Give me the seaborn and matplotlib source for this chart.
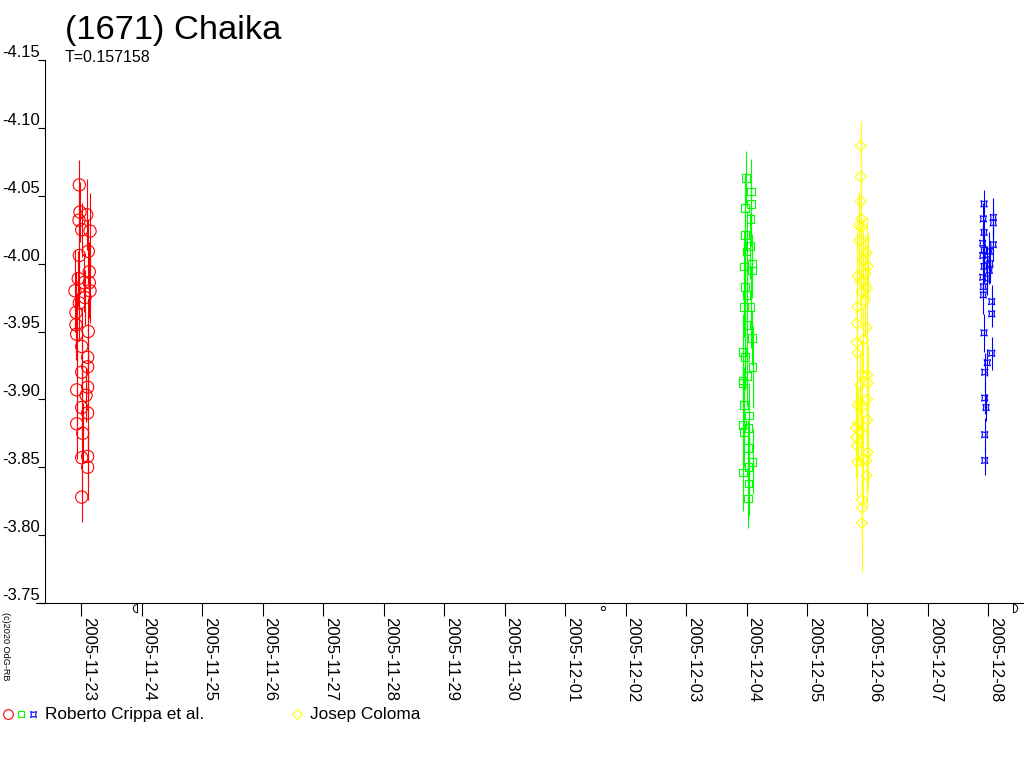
import matplotlib
matplotlib.use("Agg")
import matplotlib.pyplot as plt
import matplotlib.dates as mdates
from matplotlib.lines import Line2D
from matplotlib.path import Path
from matplotlib.ticker import FormatStrFormatter
import numpy as np
import pandas as pd
import seaborn as sns

TITLE = "(1671) Chaika"
PERIOD_NOTE = "T=0.157158"
COPYRIGHT = "(c)2020 OdG-RB"

# Roberto Crippa et al. - first night (days after 2005-11-23 00:00 UT)
red_base = "2005-11-23"
red_dt = [-0.028, -0.017, -0.033, 0.094, 0.012, 0.149, 0.120, -0.028, 0.137, -0.045,
          0.137, -0.100, 0.149, -0.028, -0.083, -0.083, -0.071, 0.120, 0.012, 0.110,
          0.110, 0.012, -0.071, 0.110, 0.083, 0.012, 0.110, -0.071, 0.028, 0.012,
          0.110, 0.110, 0.012, 0.050, 0.066]
red_mag = [-4.058, -4.038, -4.032, -4.036, -4.025, -4.024, -4.009, -4.006, -3.994, -3.989,
           -3.986, -3.980, -3.980, -3.971, -3.964, -3.955, -3.948, -3.950, -3.939, -3.931,
           -3.924, -3.920, -3.907, -3.909, -3.903, -3.894, -3.890, -3.882, -3.875, -3.857,
           -3.858, -3.850, -3.828, -3.986, -3.975]
red_err = [0.018, 0.022, 0.020, 0.026, 0.020, 0.028, 0.024, 0.030, 0.022, 0.020,
           0.026, 0.030, 0.024, 0.028, 0.030, 0.026, 0.030, 0.025, 0.028, 0.030,
           0.022, 0.026, 0.030, 0.024, 0.020, 0.028, 0.024, 0.026, 0.022, 0.030,
           0.020, 0.024, 0.018, 0.022, 0.020]

# Roberto Crippa et al. - second night (days after 2005-12-04)
green_base = "2005-12-04"
green_dt = [-0.008, 0.079, 0.079, -0.020, 0.069, -0.020, 0.058, 0.003, 0.091, -0.041,
            0.091, -0.020, 0.003, 0.069, -0.041, 0.003, 0.091, -0.063, -0.020, 0.102,
            0.013, -0.053, -0.053, -0.041, 0.046, -0.063, 0.036, -0.041, 0.025, 0.102,
            -0.053, 0.036, 0.036, 0.025]
green_mag = [-4.063, -4.053, -4.044, -4.041, -4.033, -4.021, -4.013, -4.009, -4.000, -3.998,
             -3.995, -3.983, -3.977, -3.968, -3.968, -3.955, -3.945, -3.935, -3.931, -3.924,
             -3.917, -3.914, -3.912, -3.896, -3.888, -3.881, -3.879, -3.876, -3.864, -3.854,
             -3.846, -3.850, -3.838, -3.827]
green_err = [0.020, 0.024, 0.022, 0.026, 0.020, 0.028, 0.024, 0.030, 0.022, 0.026,
             0.020, 0.028, 0.024, 0.030, 0.022, 0.026, 0.020, 0.028, 0.024, 0.030,
             0.022, 0.026, 0.020, 0.028, 0.024, 0.030, 0.022, 0.026, 0.020, 0.024,
             0.028, 0.022, 0.024, 0.022]

# Roberto Crippa et al. - third night (days after 2005-12-08)
blue_base = "2005-12-08"
blue_dt = [-0.074, -0.086, 0.079, 0.079, -0.074, -0.096, 0.079, -0.074, 0.013, -0.096,
           -0.030, 0.025, -0.074, 0.013, -0.096, -0.030, -0.086, -0.086, 0.053, 0.053,
           -0.074, 0.053, -0.020, -0.063, -0.063, -0.041, -0.063, -0.063]
blue_mag = [-4.044, -4.033, -4.034, -4.030, -4.023, -4.015, -4.014, -4.010, -4.009, -4.006,
            -4.003, -4.000, -3.998, -3.995, -3.990, -3.989, -3.983, -3.977, -3.972, -3.963,
            -3.949, -3.934, -3.927, -3.920, -3.901, -3.894, -3.874, -3.855]
blue_err = [0.010, 0.012, 0.014, 0.012, 0.010, 0.014, 0.012, 0.010, 0.014, 0.012,
            0.010, 0.014, 0.012, 0.010, 0.014, 0.012, 0.010, 0.014, 0.012, 0.010,
            0.014, 0.012, 0.010, 0.014, 0.012, 0.010, 0.012, 0.011]

# Josep Coloma (days after 2005-12-06)
yellow_base = "2005-12-06"
yellow_dt = [-0.112, -0.112, -0.112, -0.102, -0.145, -0.102, -0.136, -0.013, -0.069, 0.008,
             -0.036, -0.169, -0.112, -0.003, -0.102, -0.046, -0.169, -0.179, -0.013, -0.069,
             -0.179, -0.169, -0.091, -0.003, -0.124, 0.008, -0.003, -0.169, -0.091, -0.003,
             -0.157, -0.190, -0.112, -0.190, -0.179, 0.008, -0.069, -0.169, -0.013, -0.013,
             -0.091, -0.091, -0.091]
yellow_mag = [-4.087, -4.064, -4.046, -4.033, -4.028, -4.027, -4.017, -4.008, -4.003, -3.998,
              -3.993, -3.991, -3.987, -3.982, -3.979, -3.973, -3.968, -3.956, -3.953, -3.944,
              -3.942, -3.934, -3.918, -3.918, -3.911, -3.912, -3.900, -3.896, -3.894, -3.885,
              -3.882, -3.879, -3.877, -3.872, -3.866, -3.861, -3.856, -3.854, -3.855, -3.844,
              -3.826, -3.820, -3.809]
yellow_err = [0.018, 0.022, 0.026, 0.030, 0.024, 0.028, 0.032, 0.026, 0.030, 0.024,
              0.028, 0.032, 0.026, 0.030, 0.024, 0.028, 0.032, 0.026, 0.030, 0.024,
              0.028, 0.032, 0.026, 0.030, 0.024, 0.028, 0.032, 0.026, 0.030, 0.024,
              0.028, 0.032, 0.026, 0.030, 0.024, 0.028, 0.032, 0.026, 0.030, 0.024,
              0.028, 0.030, 0.036]

y_ticks = [-4.15, -4.10, -4.05, -4.00, -3.95, -3.90, -3.85, -3.80, -3.75]
x_start = "2005-11-22 09:43"
x_end = "2005-12-08 14:05"

# moon phases shown under the time axis
moon_last_quarter = "2005-11-23 22:11"
moon_new = "2005-12-01 15:01"
moon_first_quarter = "2005-12-08 09:36"


def to_times(base, offsets):
    return pd.Timestamp(base) + pd.to_timedelta(np.array(offsets), unit="D")


def half_moon(side):
    arc = Path.arc(-90, 90) if side == "right" else Path.arc(90, 270)
    verts = np.vstack([arc.vertices, arc.vertices[:1]])
    codes = list(arc.codes) + [Path.CLOSEPOLY]
    return Path(verts, codes)


sns.set_style("white")
plt.rcParams["font.family"] = ["Liberation Sans", "DejaVu Sans"]
plt.rcParams["text.color"] = "black"
plt.rcParams["xtick.color"] = "black"
plt.rcParams["ytick.color"] = "black"
plt.rcParams["xtick.labelcolor"] = "black"
plt.rcParams["ytick.labelcolor"] = "black"

W, H = 1024, 768
fig = plt.figure(figsize=(W / 100, H / 100), dpi=100)
ax = fig.add_axes([45 / W, 1 - 603 / H, (W - 45) / W, (603 - 60) / H])

star4 = (4, 1, 45)
series = [
    (red_base, red_dt, red_mag, red_err, "#ff0000", "o", 78),
    (green_base, green_dt, green_mag, green_err, "#00ff00", "s", 30),
    (blue_base, blue_dt, blue_mag, blue_err, "#0000ff", star4, 40),
    (yellow_base, yellow_dt, yellow_mag, yellow_err, "#ffff00", "D", 30),
]
for base, dt, mag, err, col, mk, size in series:
    t = to_times(base, dt)
    ax.errorbar(t, mag, yerr=err, fmt="none", ecolor=col, elinewidth=0.8, capsize=0, zorder=2)
    sns.scatterplot(x=t, y=mag, marker=mk, s=size, facecolors="none", edgecolor=col,
                    linewidth=0.8, ax=ax, zorder=3, legend=False)

ax.set_xlim(pd.Timestamp(x_start), pd.Timestamp(x_end))
ax.set_ylim(y_ticks[-1], y_ticks[0])
ax.set_yticks(y_ticks)
ax.yaxis.set_major_formatter(FormatStrFormatter("%.2f"))
ax.xaxis.set_major_locator(mdates.DayLocator())
ax.xaxis.set_major_formatter(mdates.DateFormatter("%Y-%m-%d"))
ax.set_xlabel("")
ax.set_ylabel("")

for s in ["top", "right"]:
    ax.spines[s].set_visible(False)
for s in ["left", "bottom"]:
    ax.spines[s].set_linewidth(0.8)
    ax.spines[s].set_color("black")

ax.tick_params(axis="x", direction="out", length=9, width=0.8, pad=1,
               labelsize=12, bottom=True, colors="black")
ax.tick_params(axis="y", direction="out", length=5, width=0.8, pad=-1.5,
               labelsize=12, left=True, colors="black")
for lbl in ax.get_xticklabels():
    lbl.set_rotation(-90)
    lbl.set_ha("left")
    lbl.set_va("top")
for lbl in ax.get_yticklabels():
    lbl.set_va("bottom")

# bottom axis line runs a little past the left axis
fig.add_artist(Line2D([36 / W, 45 / W], [1 - 603 / H] * 2, color="black", lw=0.8))

# moon phase marks
moon_y = -5 / 543
ax.plot([pd.Timestamp(moon_last_quarter)], [moon_y], marker=half_moon("left"), ms=6,
        mfc="none", mec="black", mew=0.7, transform=ax.get_xaxis_transform(), clip_on=False)
ax.plot([pd.Timestamp(moon_new)], [moon_y], marker="o", ms=3, mfc="none", mec="black",
        mew=0.7, transform=ax.get_xaxis_transform(), clip_on=False)
ax.plot([pd.Timestamp(moon_first_quarter)], [moon_y], marker=half_moon("right"), ms=6,
        mfc="none", mec="black", mew=0.7, transform=ax.get_xaxis_transform(), clip_on=False)

fig.text(65 / W, 1 - 31 / H, TITLE, fontsize=24.8, va="center", ha="left", color="black")
fig.text(65 / W, 1 - 58 / H, PERIOD_NOTE, fontsize=11.5, va="center", ha="left", color="black")
fig.text(1 / W, 1 - 612 / H, COPYRIGHT, fontsize=6.6, rotation=-90, ha="left", va="top",
         color="black")

# legend row
ly = 1 - 714 / H
legend_marks = [(8, "o", "#ff0000", 7), (21, "s", "#00ff00", 5),
                (33, star4, "#0000ff", 6), (297, "D", "#ffff00", 5)]
for px, mk, col, ms in legend_marks:
    fig.add_artist(Line2D([px / W], [ly], marker=mk, ms=ms, mfc="none", mec=col,
                          mew=0.8, linestyle="none"))
fig.text(45 / W, ly, "Roberto Crippa et al.", fontsize=12.4, va="center", ha="left", color="black")
fig.text(310 / W, ly, "Josep Coloma", fontsize=12.4, va="center", ha="left", color="black")

fig.savefig("out.png", dpi=100, facecolor="white")
